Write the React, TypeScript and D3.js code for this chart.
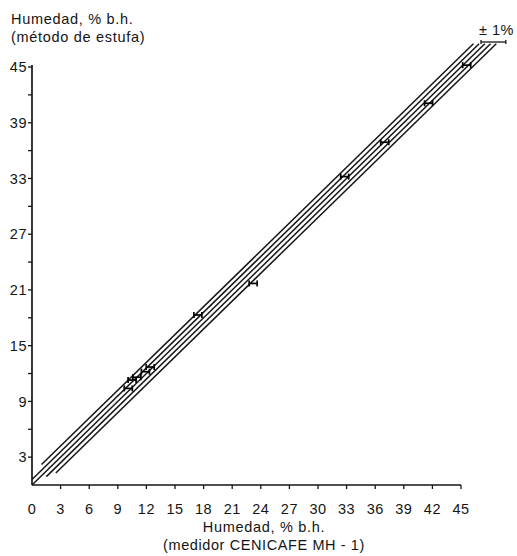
import React from "react";
import * as d3 from "d3";

const W = 517;
const H = 556;

const xTicks = [0, 3, 6, 9, 12, 15, 18, 21, 24, 27, 30, 33, 36, 39, 42, 45];
const yTicks = [3, 6, 9, 12, 15, 18, 21, 24, 27, 30, 33, 36, 39, 42, 45];
const yLabeled = [3, 9, 15, 21, 27, 33, 39, 45];

// parallel reference lines: offset (% b.h.) and start x
const bandOffsets = [1.2, 0.6, 0, -0.6, -1.2];
const bandStartX = [1.0, 0, 0, 1.5, 2.5];
const bandEndY = 47.5;

// measured points (medidor, estufa)
const pointsX = [10.1, 10.5, 11.0, 11.9, 12.4, 17.4, 23.2, 32.8, 37.0, 41.6, 45.6];
const pointsY = [10.4, 11.3, 11.6, 12.2, 12.7, 18.3, 21.7, 33.2, 36.9, 41.1, 45.2];

const yTitle = ["Humedad, % b.h.", "(método de estufa)"];
const xTitle = ["Humedad, % b.h.", "(medidor CENICAFE MH - 1)"];
const scaleLabel = "± 1%";

export default function App() {
  const x = d3.scaleLinear().domain([0, 45]).range([32, 461]);
  const y = d3.scaleLinear().domain([0, 45]).range([485, 67]);
  const line = d3
    .line<[number, number]>()
    .x((d) => x(d[0]))
    .y((d) => y(d[1]));
  const font = "'Liberation Sans', Arial, Helvetica, sans-serif";
  const ink = "#151515";

  return (
    <svg
      width={W}
      height={H}
      style={{ position: "absolute", left: 0, top: 0, background: "#fff" }}
      fontFamily={font}
    >
      {/* titles */}
      <text x={11} y={24} fontSize={14.5} letterSpacing={0.7} fill={ink}>
        {yTitle[0]}
      </text>
      <text x={11} y={42} fontSize={14.5} letterSpacing={0.7} fill={ink}>
        {yTitle[1]}
      </text>

      {/* axes */}
      <line x1={x(0)} x2={x(45)} y1={y(0)} y2={y(0)} stroke={ink} strokeWidth={1.7} />
      <line x1={x(0)} x2={x(0)} y1={y(0)} y2={y(45) - 2} stroke={ink} strokeWidth={1.7} />

      {xTicks.map((t) => (
        <g key={"xt" + t}>
          {t > 0 && (
            <line x1={x(t)} x2={x(t)} y1={y(0)} y2={y(0) + 4} stroke={ink} strokeWidth={1.3} />
          )}
          <text
            x={x(t)}
            y={514}
            textAnchor="middle"
            fontSize={14.5}
            letterSpacing={0.5}
            fill={ink}
          >
            {t}
          </text>
        </g>
      ))}

      {yTicks.map((t) => (
        <g key={"yt" + t}>
          <line x1={x(0) - 4} x2={x(0)} y1={y(t)} y2={y(t)} stroke={ink} strokeWidth={1.3} />
          {yLabeled.includes(t) && (
            <text
              x={27}
              y={y(t)}
              dy="0.36em"
              textAnchor="end"
              fontSize={14.5}
              letterSpacing={0.5}
              fill={ink}
            >
              {t}
            </text>
          )}
        </g>
      ))}

      <text x={264} y={532} textAnchor="middle" fontSize={14.5} letterSpacing={0.7} fill={ink}>
        {xTitle[0]}
      </text>
      <text x={264} y={550} textAnchor="middle" fontSize={14.5} letterSpacing={0.6} fill={ink}>
        {xTitle[1]}
      </text>

      {/* band of parallel lines */}
      {bandOffsets.map((o, i) => {
        const x0 = bandStartX[i];
        const x1 = bandEndY - o;
        const pts: [number, number][] = [
          [x0, x0 + o],
          [x1, x1 + o],
        ];
        return (
          <path key={"b" + i} d={line(pts) || ""} fill="none" stroke={ink} strokeWidth={1.5} />
        );
      })}

      {/* points */}
      {pointsX.map((px, i) => {
        const cx = x(px);
        const cy = y(pointsY[i]);
        return (
          <g key={"p" + i} stroke="#000" strokeWidth={1.7}>
            <line x1={cx - 4} x2={cx + 4} y1={cy} y2={cy} />
            <line x1={cx - 4} x2={cx - 4} y1={cy - 3} y2={cy + 3} />
            <line x1={cx + 4} x2={cx + 4} y1={cy - 3} y2={cy + 3} />
          </g>
        );
      })}

      {/* ±1% scale bar */}
      <text x={479} y={35} fontSize={14.5} letterSpacing={0.5} fill={ink}>
        {scaleLabel}
      </text>
      <g stroke={ink} strokeWidth={1.3}>
        <line x1={x(47.1)} x2={x(49.7)} y1={42} y2={42} />
        <line x1={x(47.1)} x2={x(47.1)} y1={40} y2={44} />
        <line x1={x(49.7)} x2={x(49.7)} y1={40} y2={44} />
      </g>
    </svg>
  );
}
